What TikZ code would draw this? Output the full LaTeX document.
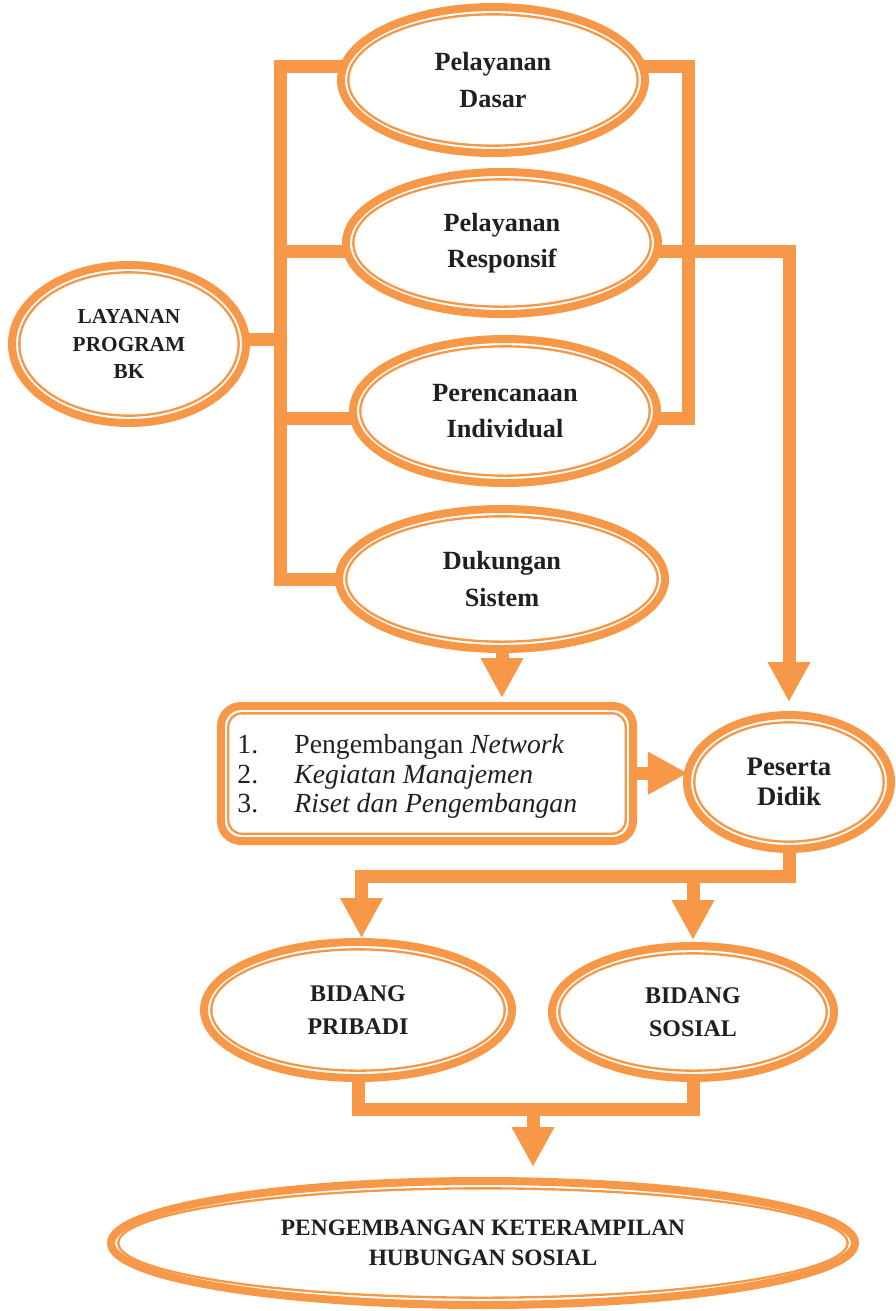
\documentclass[tikz,border=0pt]{standalone}
\usepackage{tikz}
\usepackage{xcolor}
\usepackage{fontspec}
\setmainfont{Liberation Serif}
\usetikzlibrary{shapes.geometric,arrows.meta,calc}
\definecolor{bkorange}{HTML}{F79848}
\definecolor{ink}{HTML}{231F20}
\pgfdeclarelayer{background}
\pgfsetlayers{background,main}

\begin{document}
\begin{tikzpicture}[x=0.015cm,y=-0.015cm,
  oval/.style={ellipse,draw=bkorange,line width=0.12cm,fill=white,inner sep=0pt,outer sep=0pt,
    align=center,text=ink,font=\fontsize{11.2}{15.4}\selectfont\bfseries},
  ring/.style={draw=bkorange,line width=0.035cm},
  link/.style={draw=bkorange,line width=0.195cm},
  arrow/.style={link,-{Triangle[width=0.6cm,length=0.6cm]}}]
\useasboundingbox (0,0) rectangle (896,1311);
\node[oval,minimum width=4.56cm,minimum height=2.19cm] (dasar) at (493,80) {Pelayanan\\Dasar};
\node[oval,minimum width=4.68cm,minimum height=2.13cm] (responsif) at (502,243) {Pelayanan\\Responsif};
\node[oval,minimum width=4.56cm,minimum height=2.16cm] (individual) at (505,411) {Perencanaan\\Individual};
\node[oval,minimum width=4.89cm,minimum height=2.10cm] (sistem) at (502,579) {Dukungan\\Sistem};
\node[oval,minimum width=3.51cm,minimum height=2.37cm,font=\fontsize{9.1}{11.9}\selectfont\bfseries] (layanan) at (129,344) {LAYANAN\\PROGRAM\\BK};
\node[oval,minimum width=3.06cm,minimum height=2.01cm,font=\fontsize{11.4}{12.8}\selectfont\bfseries] (peserta) at (789,782) {Peserta\\Didik};
\node[oval,minimum width=4.62cm,minimum height=2.04cm,font=\fontsize{10.2}{14}\selectfont\bfseries] (pribadi) at (358,1010) {BIDANG\\PRIBADI};
\node[oval,minimum width=4.23cm,minimum height=1.98cm,font=\fontsize{10.2}{14}\selectfont\bfseries] (sosial) at (693,1012) {BIDANG\\SOSIAL};
\node[oval,minimum width=11.16cm,minimum height=1.86cm,font=\fontsize{10}{12.8}\selectfont\bfseries] (hubungan) at (483,1243) {PENGEMBANGAN KETERAMPILAN\\HUBUNGAN SOSIAL};
\node[draw=bkorange,line width=0.12cm,rounded corners=0.3cm,fill=white,inner sep=0pt,outer sep=0pt,
  minimum width=6.18cm,minimum height=2.025cm] (kegiatan) at (427,773.5) {};
\node[anchor=base west,inner sep=0pt,text=ink,font=\fontsize{11.8}{12.8}\selectfont] (daftar) at (237,753)
  {\begin{tabular}[t]{@{}p{0.855cm}@{}l@{}}
   1. & Pengembangan \textit{Network}\\
   2. & \textit{Kegiatan Manajemen}\\
   3. & \textit{Riset dan Pengembangan}
   \end{tabular}};
% inner lines
\foreach \nm in {dasar,responsif,individual,sistem,layanan,peserta,pribadi,sosial,hubungan}
  \draw[ring] let \p1=($(\nm.east)-(\nm.center)$), \p2=($(\nm.north)-(\nm.center)$) in
    (\nm.center) ellipse [x radius=\x1-0.11cm, y radius=\y2-0.11cm];
\draw[ring,rounded corners=0.2cm] ($(kegiatan.south west)+(0.11cm,0.11cm)$) rectangle ($(kegiatan.north east)-(0.11cm,0.11cm)$);
% connectors
\coordinate (lbar) at (280,0);
\coordinate (rbar) at (688,0);
\coordinate (fork) at (789,876);
\coordinate (merge) at (533,1109);
\begin{pgfonlayer}{background}
\draw[link] (dasar.175) -| (lbar |- sistem) -- (sistem.west);
\draw[link] (responsif.183) -- (lbar |- responsif.183);
\draw[link] (individual.183) -- (lbar |- individual.183);
\draw[link] (layanan.2) -- (lbar |- layanan.2);
\draw[link] (dasar.5) -| (rbar |- individual.357) -- (individual.357);
\draw[arrow,shorten >=0.195cm] (responsif.357) -| (peserta.north);
\draw[arrow,shorten >=0.12cm] (sistem) -- (sistem |- kegiatan.north);
\draw[arrow] (kegiatan.east |- peserta.175) -- (peserta.175);
\draw[arrow,shorten >=0.06cm] (peserta) -- (fork) -| (pribadi.87);
\draw[arrow,shorten >=0.09cm] (sosial.north |- fork) -- (sosial.north);
\draw[link] (pribadi) |- (merge) -| (sosial);
\draw[arrow,shorten >=0.21cm] (merge) -- (merge |- hubungan.north);
\end{pgfonlayer}
\end{tikzpicture}
\end{document}
